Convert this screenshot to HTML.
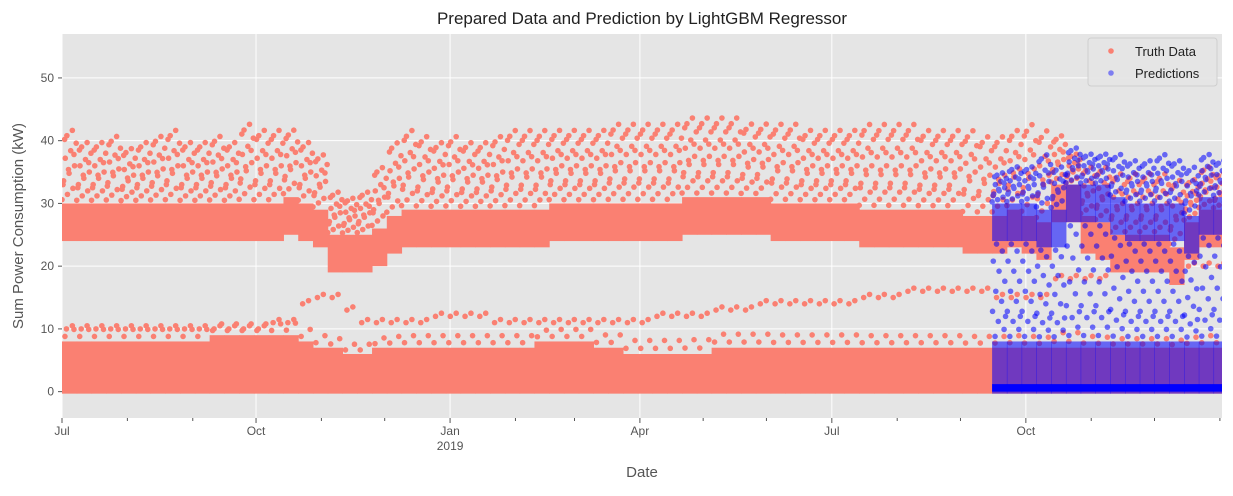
<!DOCTYPE html>
<html><head><meta charset="utf-8">
<style>
body{margin:0;background:#fff;font-family:"Liberation Sans",sans-serif;}
svg text{font-family:"Liberation Sans",sans-serif;}
</style></head>
<body>
<svg id="chart" width="1233" height="491" xmlns="http://www.w3.org/2000/svg">
<defs><clipPath id="plotclip"><rect x="62" y="34" width="1160" height="384"/></clipPath></defs>
<rect x="0" y="0" width="1233" height="491" fill="#fff"/>
<rect x="62" y="34" width="1160" height="384" fill="#e5e5e5"/>
<g id="grid"></g>
<g id="marks" clip-path="url(#plotclip)"></g>
<g id="axes"></g>
<text x="642" y="24" text-anchor="middle" font-size="17" fill="#222">Prepared Data and Prediction by LightGBM Regressor</text>
<text x="642" y="477" text-anchor="middle" font-size="15" fill="#555">Date</text>
<text transform="translate(23,226) rotate(-90)" text-anchor="middle" font-size="15" fill="#555">Sum Power Consumption (kW)</text>
<g>
<rect x="1088" y="38" width="129" height="48" rx="3" fill="#e5e5e5" stroke="#ccc" opacity="0.9"/>
<circle cx="1111" cy="51" r="2.8" fill="#fa8072"/>
<text x="1135" y="56" font-size="13" fill="#222">Truth Data</text>
<circle cx="1111" cy="73" r="2.8" fill="#0000ff" opacity="0.45"/>
<text x="1135" y="78" font-size="13" fill="#222">Predictions</text>
</g>
</svg>
<script>
// weekly summaries starting Jul 1 2018
const truthLow = [8,8,8,8,8,8,8,8,8,8,9,9,9,9,9,9,8,7,7,6,6,7,7,7,7,7,7,7,7,7,7,7,8,8,8,8,7,7,6,6,6,6,6,6,7,7,7,7,7,7,7,7,7,7,7,7,7,7,7,7,7,7,7,7,7,7,7,7,7,7,7,7,7,7,7,7,7,7,7];
const truthMid = [27,27,27,27,27,27,27,27,27,27,27,27,27,27,27,28,27,26,22,22,22,23,25,26,26,26,26,26,26,26,26,26,26,27,27,27,27,27,27,27,27,27,28,28,28,28,28,28,27,27,27,27,27,27,26,26,26,26,26,26,26,25,25,25,26,25,24,30,30,25,24,22,22,22,22,20,24,26,26];
const truthHigh = [42,40,40,41,39,40,41,42,40,40,41,40,43,42,42,42,40,38,32,31,32,36,40,42,41,40,41,40,40,41,42,42,42,42,42,42,42,43,43,43,43,43,44,44,44,44,43,43,43,43,42,42,42,42,43,43,43,43,42,42,42,42,41,41,42,43,42,41,38,36,36,35,35,35,35,34,34,36,35];
const truthSec = [10,10,10,10,10,10,10,10,10,10,10,10,10,10,11,11,14,15,15,13,11,11,11,11,11,12,12,12,12,11,11,11,11,11,11,11,11,11,11,11,12,12,12,12,13,13,13,14,14,14,14,14,14,14,15,15,15,16,16,16,16,16,16,15,15,15,15,18,18,18,18,20,20,20,20,20,20,20,20];
const predStart = 63;
const predLow = [8,8,8,8,8,8,8,8,8,8,8,8,8,8,8,8];
const predMid = [27,27,27,26,26,30,30,30,28,27,27,27,27,25,28,28];
const predHigh = [35,36,36,38,36,39,38,38,38,37,37,38,37,36,38,37];
const yTicks = [0,10,20,30,40,50];
const xTickLabels = ["Jul","Oct","Jan","Apr","Jul","Oct"];
const xTickDays = [0,92,184,274,365,457];

const X0=62, PW=1160, Y0=34, PH=384, DAYS=550, YMIN=-4.2, YMAX=57;
const xs = d => X0 + d/DAYS*PW;
const ys = v => Y0 + (YMAX - v)/(YMAX-YMIN)*PH;
const NS="http://www.w3.org/2000/svg";
function mk(tag, attrs, parent){const e=document.createElementNS(NS,tag);for(const k in attrs)e.setAttribute(k,attrs[k]);parent.appendChild(e);return e;}
const grid=document.getElementById('grid'), marks=document.getElementById('marks'), axes=document.getElementById('axes');

yTicks.forEach(v=>{
  const l=mk('line',{x1:X0,x2:X0+PW,y1:ys(v),y2:ys(v),stroke:'#fff','stroke-width':1},grid);
  
  
  const t=mk('text',{x:X0-8,y:ys(v)+4,'text-anchor':'end','font-size':12,fill:'#555'},axes);
  t.textContent=v;
  
  
  mk('line',{x1:X0-4,x2:X0,y1:ys(v),y2:ys(v),stroke:'#555'},axes);
});
xTickDays.forEach((d,i)=>{
  const l=mk('line',{x1:xs(d),x2:xs(d),y1:Y0,y2:Y0+PH,stroke:'#fff','stroke-width':1},grid);
  
  
  mk('line',{x1:xs(d),x2:xs(d),y1:Y0+PH,y2:Y0+PH+5,stroke:'#555'},axes);
  const t=mk('text',{x:xs(d),y:Y0+PH+17,'text-anchor':'middle','font-size':12,fill:'#555'},axes);
  t.textContent=xTickLabels[i];
  
  
});
const yl=mk('text',{x:xs(184),y:Y0+PH+32,'text-anchor':'middle','font-size':12,fill:'#555'},axes);
yl.textContent='2019';


[31,62,123,153,215,243,304,334,396,426,488,518,549].forEach(d=>{
  mk('line',{x1:xs(d),x2:xs(d),y1:Y0+PH,y2:Y0+PH+3,stroke:'#555'},axes);
});

const fr=[0.05,0.12,0.2,0.3,0.4,0.5,0.6,0.7,0.8,0.9,0.97,0.25,0.45,0.65,0.85];
function week(i,low,mid,high,sec,color,op,name,midDots){
  const x=xs(i*7), w=xs(7)-X0;
  const g=mk('g',{opacity:op},marks);
  
  
  mk('rect',{x:x,y:ys(low),width:w+0.5,height:ys(0)-ys(low)+2,fill:color},g);
  mk('rect',{x:x,y:ys(mid+3),width:w+0.5,height:ys(mid-3)-ys(mid+3),fill:color},g);
  fr.forEach((f,k)=>{
    mk('circle',{cx:x+w*((k*0.37)%1),cy:ys(mid+3+f*(high-mid-3)),r:2.8,fill:color},g);
  });
  for(let k=0;k<midDots;k++){
    const f=fr[k];
    mk('circle',{cx:x+w*((k*0.61+0.2)%1),cy:ys(low+f*(mid-3-low)),r:2.8,fill:color},g);
  }
  if(sec!==null){
    mk('circle',{cx:x+w*0.3,cy:ys(sec),r:2.8,fill:color},g);
    mk('circle',{cx:x+w*0.7,cy:ys(sec+0.5),r:2.8,fill:color},g);
  }
}
truthMid.forEach((m,i)=>week(i,truthLow[i],m,truthHigh[i],truthSec[i],'#fa8072',1,'truth-week',2));
predMid.forEach((m,j)=>{
  const i=predStart+j;
  week(i,predLow[j],m,predHigh[j],null,'#0000ff',0.55,'prediction-week',12);
  const b=mk('rect',{x:xs(i*7),y:ys(1.2),width:xs(7)-X0+0.5,height:ys(0)-ys(1.2),fill:'#0000ff'},marks);
  
  
});
</script>
</body></html>
